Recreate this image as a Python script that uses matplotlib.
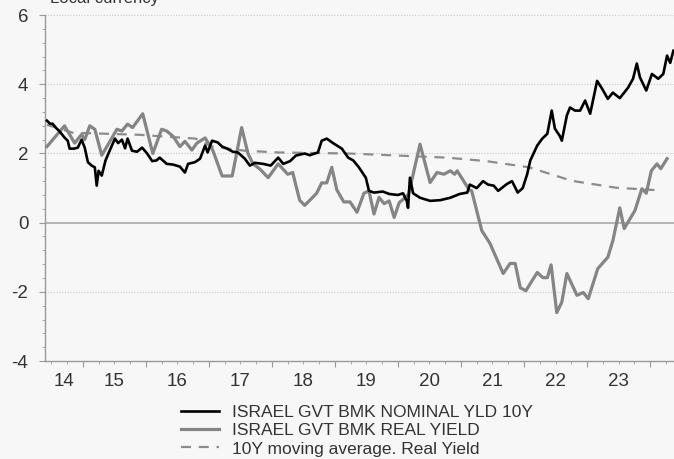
import matplotlib
matplotlib.use("Agg")
import matplotlib.pyplot as plt
from matplotlib.ticker import MultipleLocator

plt.rcParams['font.family'] = ['Liberation Sans', 'DejaVu Sans']
plt.rcParams['axes.unicode_minus'] = False

# nominal 10Y yield (decimal years, %)
nominal_t = [2014.43, 2014.48, 2014.52, 2014.57, 2014.62, 2014.67, 2014.71, 2014.76, 2014.79, 2014.86,
             2014.92, 2014.98, 2015.03, 2015.08, 2015.14, 2015.19, 2015.22, 2015.25, 2015.30, 2015.36,
             2015.43, 2015.51, 2015.56, 2015.62, 2015.67, 2015.71, 2015.78, 2015.86, 2015.94, 2016.02,
             2016.10, 2016.17, 2016.22, 2016.33, 2016.43, 2016.54, 2016.62, 2016.67, 2016.78, 2016.86,
             2016.94, 2016.98, 2017.05, 2017.14, 2017.21, 2017.29, 2017.38, 2017.46, 2017.57, 2017.65,
             2017.73, 2017.86, 2017.98, 2018.10, 2018.18, 2018.29, 2018.38, 2018.52, 2018.60, 2018.73,
             2018.79, 2018.87, 2018.97, 2019.11, 2019.21, 2019.29, 2019.38, 2019.49, 2019.54, 2019.62,
             2019.76, 2019.86, 2020.00, 2020.08, 2020.14, 2020.16, 2020.19, 2020.24, 2020.35, 2020.51,
             2020.67, 2020.83, 2020.98, 2021.10, 2021.14, 2021.25, 2021.35, 2021.43, 2021.52, 2021.59,
             2021.73, 2021.81, 2021.90, 2021.98, 2022.05, 2022.10, 2022.21, 2022.29, 2022.37, 2022.44,
             2022.49, 2022.57, 2022.60, 2022.68, 2022.73, 2022.81, 2022.89, 2022.97, 2023.05, 2023.16,
             2023.24, 2023.33, 2023.41, 2023.52, 2023.65, 2023.73, 2023.79, 2023.84, 2023.94, 2024.03,
             2024.13, 2024.21, 2024.27, 2024.32, 2024.37]
nominal = [2.95, 2.86, 2.86, 2.75, 2.66, 2.55, 2.46, 2.37, 2.14, 2.14,
           2.17, 2.40, 2.17, 1.75, 1.65, 1.60, 1.07, 1.50, 1.36, 1.80,
           2.10, 2.43, 2.30, 2.40, 2.15, 2.43, 2.08, 2.05, 2.17, 2.00,
           1.78, 1.80, 1.88, 1.70, 1.68, 1.62, 1.45, 1.70, 1.75, 1.85,
           2.23, 2.03, 2.37, 2.32, 2.20, 2.14, 2.05, 2.03, 1.85, 1.65,
           1.73, 1.70, 1.65, 1.88, 1.70, 1.78, 1.94, 2.00, 1.95, 2.03,
           2.37, 2.43, 2.30, 2.14, 1.88, 1.80, 1.60, 1.30, 0.92, 0.87,
           0.90, 0.83, 0.80, 0.85, 0.63, 0.43, 1.30, 0.85, 0.72, 0.63,
           0.65, 0.72, 0.83, 0.87, 1.10, 1.00, 1.20, 1.10, 1.07, 0.92,
           1.12, 1.20, 0.87, 1.00, 1.40, 1.80, 2.23, 2.43, 2.57, 3.24,
           2.72, 2.50, 2.37, 3.10, 3.33, 3.24, 3.24, 3.53, 3.15, 4.10,
           3.87, 3.58, 3.76, 3.60, 3.90, 4.16, 4.60, 4.20, 3.82, 4.30,
           4.16, 4.30, 4.83, 4.62, 4.97]

# real yield (monthly)
real_t = [2014.43, 2014.71, 2014.87, 2014.98, 2015.03, 2015.11, 2015.19, 2015.30, 2015.43, 2015.54,
          2015.62, 2015.71, 2015.79, 2015.95, 2016.11, 2016.25, 2016.33, 2016.43, 2016.54, 2016.62,
          2016.73, 2016.81, 2016.94, 2017.06, 2017.21, 2017.37, 2017.52, 2017.62, 2017.70, 2017.81,
          2017.94, 2018.10, 2018.25, 2018.33, 2018.44, 2018.52, 2018.63, 2018.71, 2018.79, 2018.87,
          2018.95, 2019.03, 2019.14, 2019.24, 2019.35, 2019.46, 2019.54, 2019.62, 2019.70, 2019.78,
          2019.86, 2019.94, 2020.02, 2020.10, 2020.17, 2020.35, 2020.51, 2020.62, 2020.73, 2020.83,
          2020.90, 2020.94, 2021.13, 2021.17, 2021.33, 2021.46, 2021.67, 2021.78, 2021.86, 2021.94,
          2022.03, 2022.10, 2022.21, 2022.30, 2022.37, 2022.43, 2022.52, 2022.60, 2022.68, 2022.84,
          2022.94, 2023.02, 2023.17, 2023.33, 2023.41, 2023.52, 2023.59, 2023.76, 2023.87, 2023.94,
          2024.02, 2024.11, 2024.17, 2024.27]
real = [2.2, 2.8, 2.3, 2.55, 2.4, 2.8, 2.7, 1.95, 2.35, 2.7,
        2.65, 2.85, 2.75, 3.15, 2.0, 2.7, 2.65, 2.5, 2.2, 2.35,
        2.1, 2.3, 2.45, 2.1, 1.35, 1.35, 2.75, 2.0, 1.7, 1.55,
        1.3, 1.7, 1.4, 1.45, 0.65, 0.5, 0.7, 0.85, 1.15, 1.15,
        1.6, 0.95, 0.6, 0.6, 0.3, 0.85, 0.92, 0.25, 0.73, 0.55,
        0.63, 0.15, 0.58, 0.7, 0.83, 2.27, 1.16, 1.45, 1.4, 1.5,
        1.4, 1.5, 0.95, 0.92, -0.23, -0.6, -1.47, -1.18, -1.18, -1.88,
        -1.97, -1.76, -1.44, -1.59, -1.59, -1.22, -2.6, -2.3, -1.47, -2.1,
        -2.02, -2.2, -1.33, -1.0, -0.52, 0.43, -0.17, 0.35, 0.98, 0.85,
        1.5, 1.7, 1.56, 1.85]

# 10Y moving average of real yield
ma_t = [2014.43, 2014.84, 2015.38, 2015.90, 2016.79, 2017.05, 2017.57, 2018.10, 2019.21, 2020.00,
        2020.78, 2021.40, 2022.08, 2022.76, 2023.46, 2024.19]
ma = [2.83, 2.60, 2.57, 2.54, 2.43, 2.2, 2.08, 2.03, 2.0, 1.94,
      1.88, 1.78, 1.6, 1.21, 1.01, 0.93]

years = list(range(2015, 2025))
year_labels = ["14", "15", "16", "17", "18", "19", "20", "21", "22", "23"]
label_pos = [2014.70, 2015.5, 2016.5, 2017.5, 2018.5, 2019.5, 2020.5, 2021.5, 2022.5, 2023.5]

bg = "#f7f7f7"
txt = "#333333"
fig = plt.figure(figsize=(6.74, 4.59), dpi=100, facecolor=bg)
ax = fig.add_axes([0.0668, 0.2135, 0.9332, 0.7535], facecolor=bg)

ax.plot(nominal_t, nominal, color="black", lw=1.9, label="ISRAEL GVT BMK NOMINAL YLD 10Y", zorder=4)
ax.plot(real_t, real, color="#858585", lw=2.3, label="ISRAEL GVT BMK REAL YIELD", zorder=3)
ax.plot(ma_t, ma, color="#8c8c8c", lw=1.6, ls=(0, (4.5, 3.5)), label="10Y moving average. Real Yield", zorder=2)

ax.set_xlim(2014.40, 2024.38)
ax.set_ylim(-4, 6)

ax.set_yticks([-4, -2, 0, 2, 4, 6])
ax.yaxis.set_minor_locator(MultipleLocator(0.4))
ax.set_xticks(years)
ax.set_xticklabels([])
ax.xaxis.set_minor_locator(MultipleLocator(0.25))

for y in [-2, 2, 4, 6]:
    ax.axhline(y, color="#c8c8c8", lw=0.8, ls=(0, (1, 1.5)), zorder=1)
ax.axhline(0, color="#a8a8a8", lw=1.2, zorder=1)

for s in ["top", "right"]:
    ax.spines[s].set_visible(False)
for s in ["left", "bottom"]:
    ax.spines[s].set_color("#9a9a9a")
    ax.spines[s].set_linewidth(1.0)

ax.tick_params(axis="both", which="major", length=4, color="#9a9a9a", labelsize=13.5, labelcolor=txt)
ax.tick_params(axis="both", which="minor", length=2.5, color="#9a9a9a")
ax.tick_params(axis="y", pad=8)

for pos, lab in zip(label_pos, year_labels):
    ax.annotate(lab, xy=(pos, 0), xycoords=("data", "axes fraction"), xytext=(0, -15),
                textcoords="offset points", ha="center", va="center", fontsize=13.5, color=txt)

fig.text(0.074, 0.9935, "Local currency", fontsize=12, color=txt, va="baseline", ha="left")

fig.legend(loc="upper left", bbox_to_anchor=(0.256, 0.137), frameon=False, fontsize=12.5,
           handlelength=2.2, handletextpad=0.7, labelspacing=0.18, borderpad=0, labelcolor=txt)

fig.savefig("out.png", dpi=100, facecolor=bg)
